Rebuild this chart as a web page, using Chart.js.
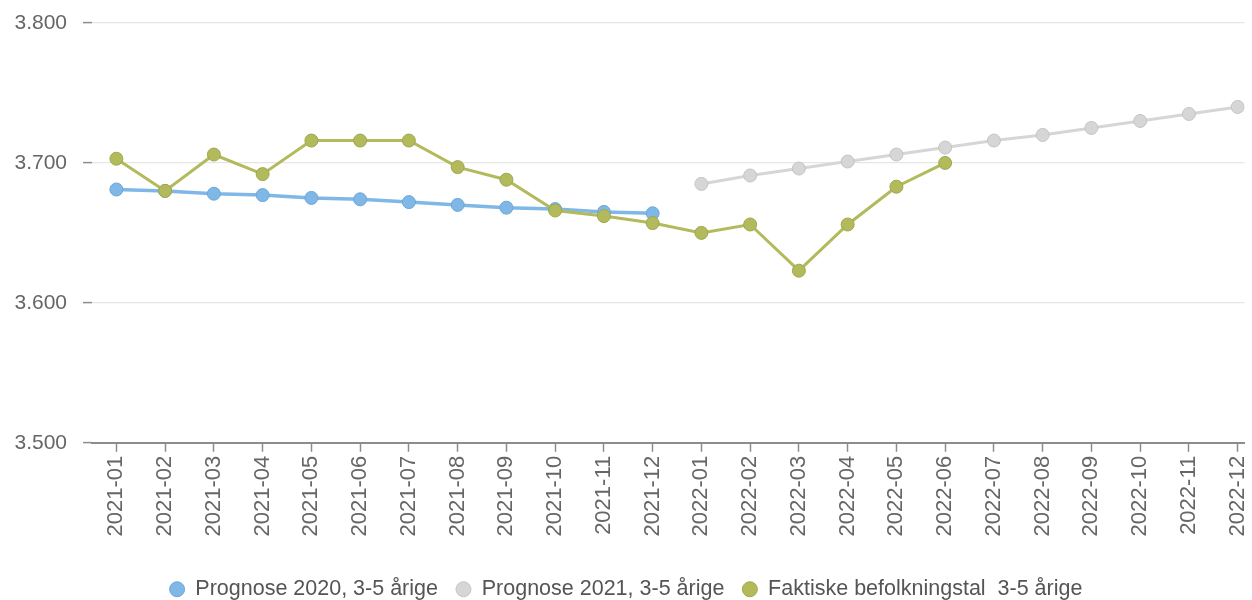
<!DOCTYPE html>
<html>
<head>
<meta charset="utf-8">
<script src="https://cdn.jsdelivr.net/npm/chart.js@4/dist/chart.umd.min.js"></script>
<style>
  html, body { margin: 0; padding: 0; background: #fff; }
  #wrap { width: 1252px; height: 600px; position: relative; }
</style>
</head>
<body>
<div id="wrap"><canvas id="c"></canvas></div>
<script>
const categories = ['2021-01','2021-02','2021-03','2021-04','2021-05','2021-06','2021-07','2021-08','2021-09','2021-10','2021-11','2021-12',
                    '2022-01','2022-02','2022-03','2022-04','2022-05','2022-06','2022-07','2022-08','2022-09','2022-10','2022-11','2022-12'];
const prognose2020 = [3681, 3680, 3678, 3677, 3675, 3674, 3672, 3670, 3668, 3667, 3665, 3664,
                      null, null, null, null, null, null, null, null, null, null, null, null];
const prognose2021 = [null, null, null, null, null, null, null, null, null, null, null, null,
                      3685, 3691, 3696, 3701, 3706, 3711, 3716, 3720, 3725, 3730, 3735, 3740];
const faktiske = [3703, 3680, 3706, 3692, 3716, 3716, 3716, 3697, 3688, 3666, 3662, 3657,
                  3650, 3656, 3623, 3656, 3683, 3700, null, null, null, null, null, null];
const yTicks = [3500, 3600, 3700, 3800];
const seriesNames = ['Prognose 2020, 3-5 årige', 'Prognose 2021, 3-5 årige', 'Faktiske befolkningstal  3-5 årige'];

const toXY = arr => arr.map((v, i) => ({ x: i, y: v })).filter(p => p.y !== null);
const fmt = v => { const s = String(Math.round(v)); return s.replace(/\B(?=(\d{3})+(?!\d))/g, '.'); };
const FONT = '"Liberation Sans", Arial, sans-serif';

function ds(label, data, color, border, order, width) {
  return {
    label, data: toXY(data), order,
    borderColor: color, backgroundColor: color,
    borderWidth: width, pointRadius: 6.5, pointHoverRadius: 6.5,
    pointBackgroundColor: color, pointBorderColor: border, pointBorderWidth: 1,
    tension: 0
  };
}

new Chart(document.getElementById('c'), {
  type: 'line',
  data: {
    datasets: [
      ds(seriesNames[0], prognose2020, '#7fb8e6', '#6fa6d4', 2, 3.5),
      ds(seriesNames[1], prognose2021, '#d6d6d6', '#c4c4c4', 1, 3),
      ds(seriesNames[2], faktiske, '#b2ba5c', '#9fa84c', 0, 3)
    ]
  },
  options: {
    responsive: true, maintainAspectRatio: false, animation: false,
    layout: { padding: { top: 23, right: 0, left: 0, bottom: -10 } },
    scales: {
      x: {
        type: 'linear', min: -0.5, max: 23.14,
        afterBuildTicks: s => { s.ticks = categories.map((_, i) => ({ value: i })); },
        afterFit: s => { s.paddingRight = 0; s.paddingLeft = 0; s.height += 20; },
        ticks: {
          autoSkip: false, maxRotation: 90, minRotation: 90, padding: 4,
          color: '#666', font: { family: FONT, size: 22 },
          callback: v => categories[v]
        },
        grid: { drawOnChartArea: false, drawTicks: true, tickLength: 9, tickColor: '#8c8c8c', tickWidth: 1.5 },
        border: { display: true, color: '#8c8c8c', width: 2 }
      },
      y: {
        min: 3500, max: 3800,
        afterBuildTicks: s => { s.ticks = yTicks.map(v => ({ value: v })); },
        afterFit: s => { s.width = 92; s.paddingTop = 0; s.paddingBottom = 0; },
        ticks: { color: '#666', font: { family: FONT, size: 21 }, padding: 16, callback: v => fmt(v) },
        grid: { color: '#e6e6e6', lineWidth: 1.2, tickLength: 9, tickColor: '#8c8c8c', tickWidth: 1.5 },
        border: { display: false }
      }
    },
    plugins: {
      legend: {
        position: 'bottom',
        labels: {
          usePointStyle: true, pointStyle: 'circle', pointStyleWidth: 15, boxWidth: 15, boxHeight: 10.6,
          padding: 18, color: '#555', font: { family: FONT, size: 21.5 },
          sort: (a, b) => a.datasetIndex - b.datasetIndex
        }
      },
      tooltip: { enabled: false }
    }
  }
});
</script>
</body>
</html>
